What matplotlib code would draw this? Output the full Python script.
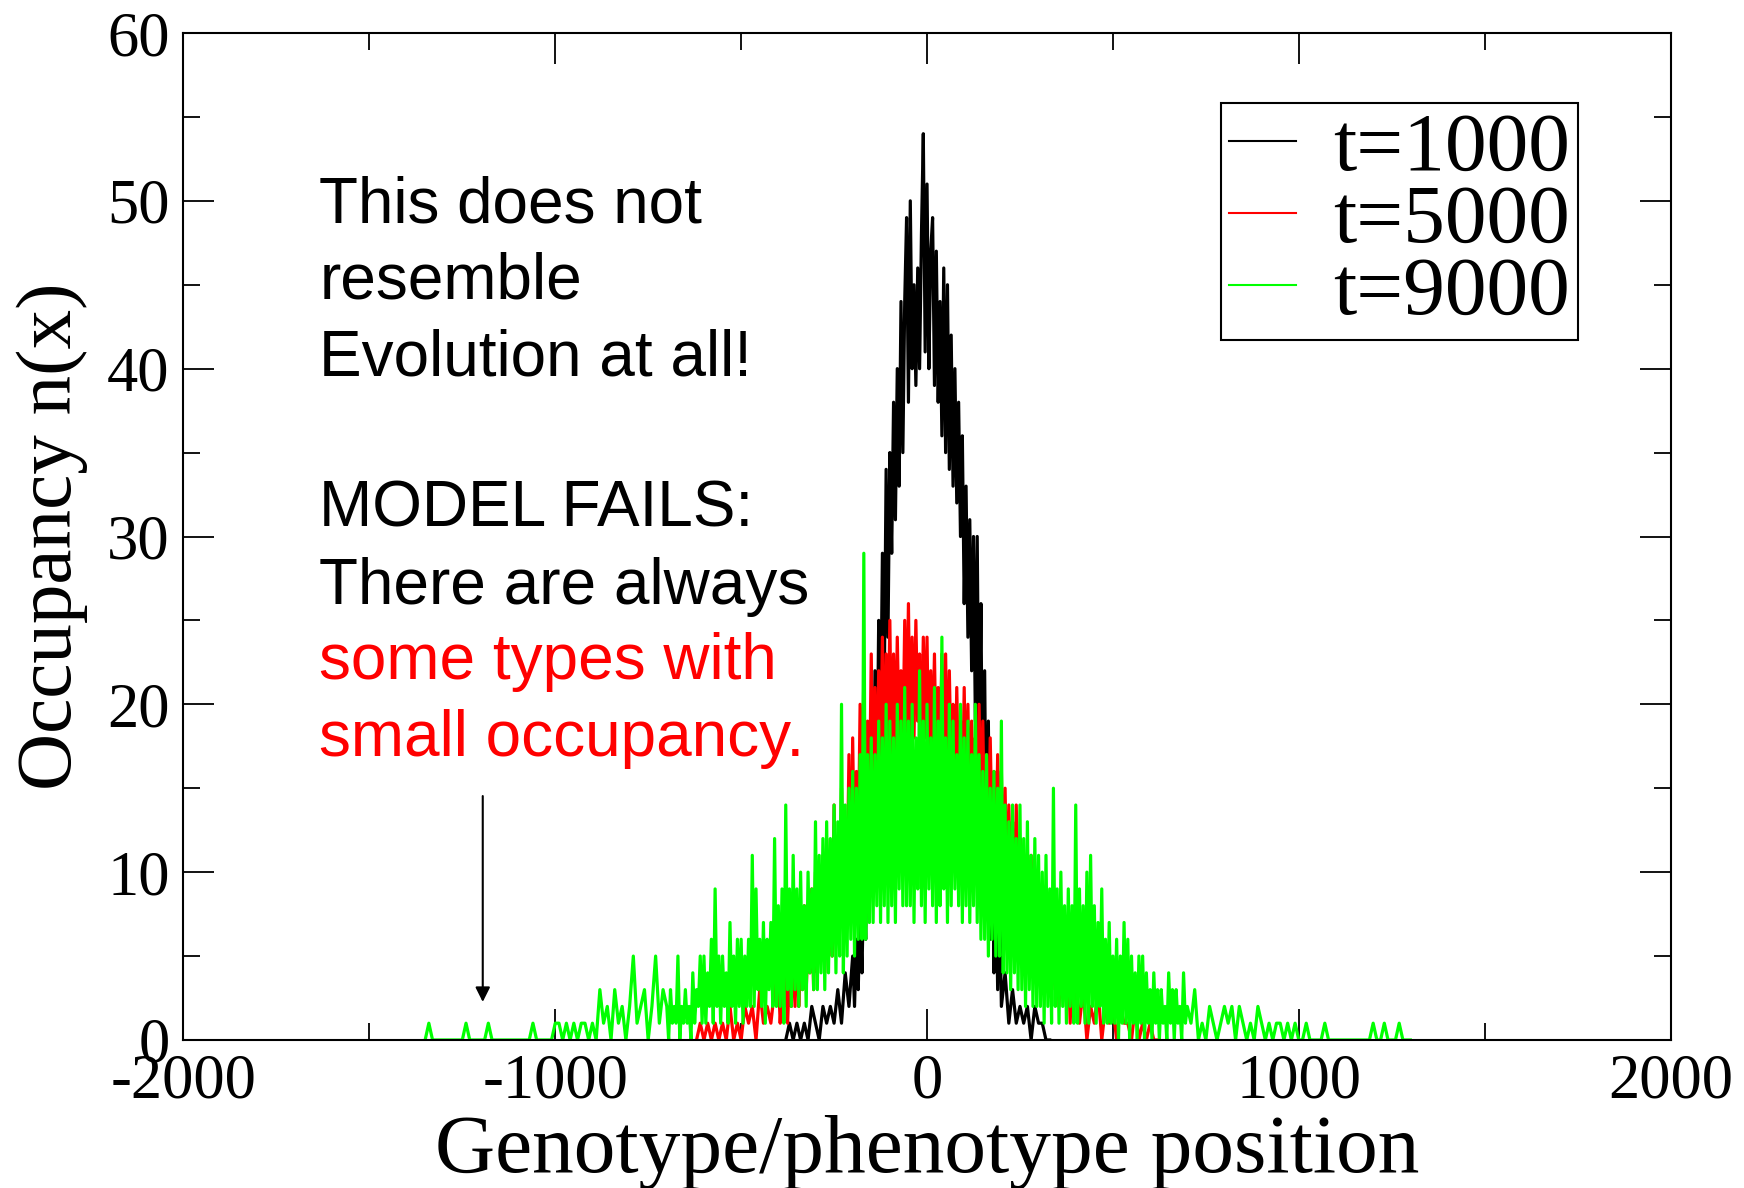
import numpy as np
import matplotlib
matplotlib.use("Agg")
import matplotlib.pyplot as plt
from matplotlib.ticker import MultipleLocator

plt.rcParams["axes.unicode_minus"] = False

# occupancy n(x): tails every 10 positions, cores every 5
black_left = [0, 1, 0, 1, 0, 1, 0, 2, 1, 0, 2, 1, 2, 1, 3, 1, 4, 2]      # -380 .. -210
black_core = [5, 2, 6, 3, 8, 4, 10, 6, 14, 8,            # -200 .. -155
              18, 11, 22, 14, 25, 18, 29, 21, 34, 24,    # -150 .. -105
              35, 29, 38, 31, 40, 33, 44, 35, 44, 49,    # -100 .. -55
              38, 50, 40, 45, 39, 46, 40, 48, 54, 41,    # -50 .. -5
              51, 40, 47, 49, 39, 47, 38, 44, 36, 46,    # 0 .. 45
              35, 45, 34, 42, 33, 40, 32, 38, 30, 36,    # 50 .. 95
              26, 33, 24, 31, 22, 30, 19, 30, 16, 26,    # 100 .. 145
              12, 22, 9, 19, 6, 14, 4, 11, 3, 9,         # 150 .. 195
              2]                                         # 200
black_right = [4, 1, 3, 1, 2, 1, 2, 0, 2, 1, 1, 0, 0]                    # 210 .. 330

red_left = [0, 1, 0, 1, 0, 1, 0, 1, 0, 2, 0, 1, 0, 2, 1, 2, 0, 3, 1, 2, 1, 3]  # -620 .. -410
red_core = [4, 1, 3, 2, 5, 1, 4, 2, 6, 2,                # -400 .. -355
            7, 2, 5, 3, 8, 3, 6, 4, 9, 3,                # -350 .. -305
            10, 4, 8, 5, 11, 4, 12, 6, 10, 5,            # -300 .. -255
            14, 6, 12, 7, 15, 8, 13, 9, 17, 8,           # -250 .. -205
            18, 10, 16, 11, 20, 12, 22, 13, 19, 14,      # -200 .. -155
            23, 14, 21, 15, 22, 16, 24, 15, 23, 17,      # -150 .. -105
            25, 16, 23, 17, 24, 18, 22, 17, 25, 18,      # -100 .. -55
            26, 17, 24, 18, 25, 19, 23, 17, 24, 18,      # -50 .. -5
            24, 16, 22, 17, 23, 16, 21, 17, 23, 15,      # 0 .. 45
            23, 15, 22, 16, 20, 14, 21, 15, 19, 14,      # 50 .. 95
            21, 14, 20, 13, 19, 14, 18, 12, 20, 13,      # 100 .. 145
            19, 12, 17, 11, 18, 12, 16, 10, 17, 10,      # 150 .. 195
            16, 9, 15, 8, 14, 9, 13, 7, 14, 8,           # 200 .. 245
            12, 6, 11, 7, 10, 6, 11, 5, 9, 5,            # 250 .. 295
            9, 4, 8, 4, 7, 3, 8, 3, 7, 3,                # 300 .. 345
            6, 2, 5, 3, 6, 2, 5, 1, 4, 2,                # 350 .. 395
            4]                                           # 400
red_right = [1, 3, 0, 2, 1, 3, 0, 2, 1, 2, 0, 2, 1, 1, 0, 2, 0, 1, 0, 1, 0, 0]  # 410 .. 620

green_left = [0, 1, 0, 0, 0, 0, 0, 0, 0, 0,              # -1350 .. -1260
              0, 1, 0, 0, 0, 0, 0, 1, 0, 0,              # -1250 .. -1160
              0, 0, 0, 0, 0, 0, 0, 0, 0, 1,              # -1150 .. -1060
              0, 0, 0, 0, 0, 1, 1, 0, 1, 0,              # -1050 .. -960
              1, 0, 1, 1, 0, 1, 0, 3, 1, 2,              # -950 .. -860
              0, 3, 1, 2, 0, 2, 5, 1, 2, 3,              # -850 .. -760
              0, 2, 5, 1, 3]                             # -750 .. -710
green_core = [2, 0, 3, 1, 2, 1, 5, 0, 2, 1,              # -700 .. -655
              3, 1, 2, 0, 4, 1, 3, 2, 5, 1,              # -650 .. -605
              5, 1, 4, 2, 6, 1, 9, 2, 5, 1,              # -600 .. -555
              5, 2, 4, 1, 7, 2, 5, 1, 6, 2,              # -550 .. -505
              6, 1, 5, 2, 6, 2, 11, 2, 9, 3,             # -500 .. -455
              6, 2, 7, 1, 6, 3, 7, 2, 12, 2,             # -450 .. -405
              8, 2, 9, 1, 14, 3, 9, 2, 11, 3,            # -400 .. -355
              9, 2, 10, 3, 8, 2, 10, 4, 9, 3,            # -350 .. -305
              13, 3, 11, 4, 12, 3, 13, 4, 12, 5,         # -300 .. -255
              14, 4, 13, 5, 20, 4, 14, 5, 15, 6,         # -250 .. -205
              16, 5, 15, 6, 17, 6, 29, 6, 17, 7,         # -200 .. -155
              18, 7, 17, 8, 19, 7, 18, 8, 20, 7,         # -150 .. -105
              19, 8, 18, 7, 20, 9, 19, 8, 21, 8,         # -100 .. -55
              19, 8, 20, 7, 18, 9, 22, 8, 19, 7,         # -50 .. -5
              20, 9, 18, 8, 21, 7, 19, 8, 24, 9,         # 0 .. 45
              18, 7, 20, 8, 19, 9, 17, 8, 20, 7,         # 50 .. 95
              18, 8, 19, 7, 17, 8, 20, 7, 17, 6,         # 100 .. 145
              16, 6, 17, 5, 15, 6, 16, 5, 15, 5,         # 150 .. 195
              19, 4, 14, 4, 13, 3, 14, 4, 12, 3,         # 200 .. 245
              14, 3, 12, 2, 13, 3, 11, 2, 12, 2,         # 250 .. 295
              11, 2, 10, 1, 11, 2, 9, 1, 15, 2,          # 300 .. 345
              9, 1, 10, 2, 8, 1, 9, 2, 8, 1,             # 350 .. 395
              14, 1, 9, 2, 8, 1, 10, 1, 11, 2,           # 400 .. 445
              8, 1, 7, 2, 9, 1, 6, 1, 7, 1,              # 450 .. 495
              5, 1, 6, 0, 5, 1, 7, 1, 6, 0,              # 500 .. 545
              5, 1, 4, 0, 5, 1, 5, 0, 4, 1,              # 550 .. 595
              3, 0, 4, 1, 3, 0, 3, 1, 2, 0,              # 600 .. 645
              4, 1, 3, 0, 3, 1, 2, 0, 4, 1,              # 650 .. 695
              2]                                         # 700
green_right = [1, 3, 0, 1, 0, 2, 1, 0, 1, 2,             # 710 .. 800
               1, 2, 0, 2, 1, 0, 1, 0, 2, 1,             # 810 .. 900
               0, 1, 0, 1, 1, 0, 1, 0, 1, 0,             # 910 .. 1000
               0, 1, 0, 0, 0, 0, 1, 0, 0, 0,             # 1010 .. 1100
               0, 0, 0, 0, 0, 0, 0, 0, 0, 1,             # 1110 .. 1200
               0, 0, 1, 0, 0, 0, 1, 0, 0, 0]             # 1210 .. 1300

labels = ["t=1000", "t=5000", "t=9000"]
colors = ["black", "#ff0000", "#00ff00"]


def positions(left, core, right, core_start, core_end):
    xl = core_start - 10 * np.arange(len(left), 0, -1)
    xc = core_start + 5 * np.arange(len(core))
    xr = core_end + 10 * np.arange(1, len(right) + 1)
    return np.concatenate([xl, xc, xr]), np.array(left + core + right)


series = [positions(black_left, black_core, black_right, -200, 200),
          positions(red_left, red_core, red_right, -400, 400),
          positions(green_left, green_core, green_right, -700, 700)]

fig = plt.figure(figsize=(17.44, 11.88), dpi=100)
ax = fig.add_axes([0.1052, 0.1246, 0.8527, 0.8476])

for (x, n), lab, c in zip(series, labels, colors):
    ax.plot(x, n, color=c, lw=2.3, label=lab)

ax.set_xlim(-2000, 2000)
ax.set_ylim(0, 60)
ax.xaxis.set_major_locator(MultipleLocator(1000))
ax.xaxis.set_minor_locator(MultipleLocator(500))
ax.yaxis.set_major_locator(MultipleLocator(10))
ax.yaxis.set_minor_locator(MultipleLocator(5))
ax.tick_params(which="both", direction="in", top=True, right=True, width=1.3)
ax.tick_params(which="major", length=22, pad=10)
ax.tick_params(which="minor", length=12)
for s in ax.spines.values():
    s.set_linewidth(1.5)

serif = "Liberation Serif"
for t in ax.get_xticklabels() + ax.get_yticklabels():
    t.set_fontfamily(serif)
    t.set_fontsize(45)

ax.set_xlabel("Genotype/phenotype position", fontfamily=serif, fontsize=60, labelpad=2)
ax.set_ylabel("Occupancy n(x)", fontfamily=serif, fontsize=57, labelpad=14)

leg = ax.legend(loc="upper right", bbox_to_anchor=(0.938, 0.9305), borderaxespad=0,
                prop={"family": serif, "size": 60}, handlelength=0.8, handletextpad=0.45,
                labelspacing=-0.05, borderpad=0.1, fancybox=False, framealpha=1)
leg.get_frame().set_edgecolor("black")
leg.get_frame().set_linewidth(1.5)
for h in leg.get_lines():
    h.set_linewidth(1.5)

sans = "Liberation Sans"
note = [("This does not", "black", 48.7),
        ("resemble", "black", 44.2),
        ("Evolution at all!", "black", 39.6),
        ("MODEL FAILS:", "black", 30.6),
        ("There are always", "black", 26.0),
        ("some types with", "#ff0000", 21.5),
        ("small occupancy.", "#ff0000", 16.9)]
for txt, c, y in note:
    ax.text(-1635, y, txt, color=c, fontfamily=sans, fontsize=46, va="baseline", ha="left")

ax.annotate("", xy=(-1195, 2.1), xytext=(-1195, 14.7),
            arrowprops=dict(arrowstyle="-|>", color="black", lw=1.5, mutation_scale=22))

fig.savefig("out.png", dpi=100)
